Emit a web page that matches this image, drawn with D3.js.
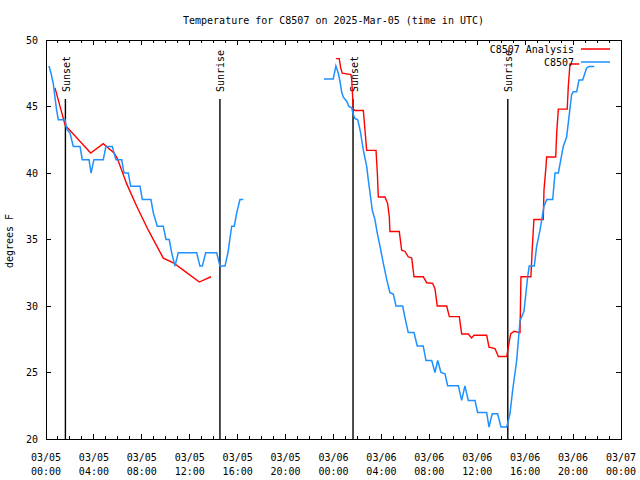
<!DOCTYPE html>
<html>
<head>
<meta charset="utf-8">
<script src="https://cdn.jsdelivr.net/npm/d3@7"></script>
<style>
  html, body { margin: 0; padding: 0; background: #fff; }
  svg { display: block; }
  text { font-family: "DejaVu Sans Mono", monospace; font-size: 10px; fill: #000; }
</style>
</head>
<body>
<script>
// ---- data (hours since 03/05 00:00 UTC, temperature in degrees F) ----
const title = "Temperature for C8507 on 2025-Mar-05 (time in UTC)";
const yLabel = "degrees F";
const seriesNames = ["C8507 Analysis", "C8507"];
const seriesColors = ["#ff0000", "#1e90ff"];

const xTickHours = [0, 4, 8, 12, 16, 20, 24, 28, 32, 36, 40, 44, 48];
const xTickDates = ["03/05","03/05","03/05","03/05","03/05","03/05","03/06","03/06","03/06","03/06","03/06","03/06","03/07"];
const xTickTimes = ["00:00","04:00","08:00","12:00","16:00","20:00","00:00","04:00","08:00","12:00","16:00","20:00","00:00"];
const yTicks = [20, 25, 30, 35, 40, 45, 50];

const sunEvents = [
  { label: "Sunset",  hour: 1.62 },
  { label: "Sunrise", hour: 14.52 },
  { label: "Sunset",  hour: 25.63 },
  { label: "Sunrise", hour: 38.55 }
];

// C8507 Analysis (red), two segments
const analysisPart1 = [
  [0.75,46.4],[1.6,43.6],[3.73,41.5],[4.78,42.2],[5.68,41.5],[5.95,41.1],[6.73,39.2],
  [7.57,37.5],[8.54,35.7],[9.79,33.6],[10.63,33.25],[11.46,32.7],[12.8,31.8],[13.77,32.2]
];
const analysisPart2 = [
  [24.2,48.6],[24.48,48.6],[24.6,47.9],[24.73,47.5],[25.46,47.4],[25.52,47.05],[25.6,45.7],
  [25.65,44.8],[25.79,44.7],[26.49,44.7],[26.63,43.2],[26.77,41.7],[27.55,41.7],[27.66,40.0],
  [27.74,38.2],[28.3,38.2],[28.52,37.7],[28.66,36.7],[28.71,35.6],[29.49,35.6],[29.69,34.2],
  [29.97,34.1],[30.24,33.7],[30.53,33.6],[30.72,32.2],[31.49,32.2],[31.78,31.75],[32.28,31.7],
  [32.47,31.3],[32.66,30.0],[33.45,30.0],[33.67,29.2],[34.5,29.2],[34.7,27.9],[35.25,27.9],
  [35.53,27.6],[35.73,27.8],[36.79,27.8],[36.98,26.9],[37.48,26.8],[37.76,26.2],[38.46,26.2],
  [38.65,27.2],[38.79,27.9],[39.07,28.1],[39.57,28.0],[39.65,32.2],[40.48,32.2],[40.59,34.3],
  [40.73,36.5],[41.51,36.5],[41.57,38.7],[41.74,40.5],[41.79,41.2],[42.55,41.2],[42.63,43.0],
  [42.77,44.8],[43.51,44.8],[43.6,46.5],[43.74,48.2],[44.52,48.2]
];

// C8507 observations (blue), two segments
const observedPart1 = [
  [0.25,48.05],[0.42,47.5],[0.61,46.7],[0.69,46.1],[0.89,44.7],[1.03,44.0],[1.59,44.0],
  [1.73,43.3],[2.0,43.0],[2.28,42.0],[2.84,42.0],[3.03,41.0],[3.59,41.0],[3.76,40.0],
  [4.0,41.0],[4.78,41.0],[5.0,42.0],[5.53,42.0],[5.84,41.0],[6.32,41.0],[6.51,40.0],
  [6.87,40.0],[7.07,39.0],[7.85,39.0],[8.04,38.0],[8.76,38.0],[8.96,37.0],[9.29,36.0],
  [9.79,36.0],[10.02,35.0],[10.29,35.0],[10.49,34.0],[10.77,33.0],[11.04,34.0],[12.58,34.0],
  [12.85,33.0],[13.05,33.0],[13.33,34.0],[14.25,34.0],[14.52,33.0],[14.94,33.0],[15.19,34.0],
  [15.5,36.0],[15.72,36.0],[15.92,37.0],[16.19,38.0],[16.47,38.0]
];
const observedPart2 = [
  [23.2,47.07],[23.98,47.07],[24.2,48.05],[24.4,47.5],[24.54,46.9],[24.68,46.1],[24.82,45.7],
  [25.1,45.4],[25.29,45.0],[25.52,44.9],[25.65,44.4],[25.79,44.1],[26.02,44.0],[26.15,43.5],
  [26.27,43.0],[26.4,42.2],[26.54,41.5],[26.77,40.5],[26.9,39.5],[27.05,38.5],[27.24,37.2],
  [27.46,36.5],[27.65,35.5],[27.88,34.5],[28.16,33.2],[28.44,32.0],[28.71,31.0],[28.99,30.9],
  [29.22,30.0],[29.77,30.0],[29.97,29.1],[30.24,28.0],[30.72,28.0],[30.99,27.0],[31.49,27.0],
  [31.72,25.9],[32.2,25.9],[32.47,25.0],[32.7,25.9],[32.97,25.0],[33.31,24.9],[33.53,24.0],
  [34.42,24.0],[34.7,22.9],[34.97,24.0],[35.25,22.9],[35.81,22.9],[36.03,22.0],[36.79,22.0],
  [36.98,20.9],[37.25,21.9],[37.7,21.9],[37.98,20.9],[38.46,20.9],[38.73,21.9],[38.96,23.7],
  [39.29,25.9],[39.57,28.9],[39.9,29.6],[40.21,32.2],[40.34,33.0],[40.76,33.0],[40.96,34.5],
  [41.24,35.7],[41.57,37.5],[41.8,38.0],[42.3,38.0],[42.49,40.0],[42.77,40.0],[43.18,42.0],
  [43.46,42.7],[43.63,44.0],[43.88,45.9],[44.02,46.1],[44.3,46.1],[44.49,47.0],[44.8,47.0],
  [45.13,47.9],[45.33,48.0],[45.77,48.0]
];

// ---- drawing ----
const W = 640, H = 480;
const plotL = 46, plotR = 621, plotT = 40, plotB = 439;

const svg = d3.select("body").append("svg").attr("width", W).attr("height", H);

const x = d3.scaleLinear().domain([0, 48]).range([plotL, plotR]);
const y = d3.scaleLinear().domain([20, 50]).range([plotB, plotT]);

// title
svg.append("text").attr("x", (plotL + plotR) / 2).attr("y", 24)
  .attr("text-anchor", "middle").text(title);

// y label
svg.append("text").attr("transform", `translate(13,241) rotate(-90)`)
  .attr("text-anchor", "middle").text(yLabel);

const axisG = svg.append("g");
const majorLen = 5, minorLen = 3;
const minorHours = d3.range(0, 49, 1);

// x ticks (bottom and top, inward)
minorHours.forEach(h => {
  const len = xTickHours.includes(h) ? majorLen : minorLen;
  axisG.append("line").attr("x1", x(h)).attr("x2", x(h)).attr("y1", plotB).attr("y2", plotB - len)
    .attr("stroke", "#000").attr("stroke-width", 1).attr("shape-rendering", "crispEdges");
  axisG.append("line").attr("x1", x(h)).attr("x2", x(h)).attr("y1", plotT).attr("y2", plotT + len)
    .attr("stroke", "#000").attr("stroke-width", 1).attr("shape-rendering", "crispEdges");
});
xTickHours.forEach((h, i) => {
  const t = axisG.append("text").attr("x", x(h)).attr("text-anchor", "middle");
  t.append("tspan").attr("x", x(h)).attr("y", 461).text(xTickDates[i]);
  t.append("tspan").attr("x", x(h)).attr("y", 475).text(xTickTimes[i]);
});

// y ticks (left and right, inward)
yTicks.forEach(v => {
  axisG.append("line").attr("x1", plotL).attr("x2", plotL + majorLen).attr("y1", y(v)).attr("y2", y(v))
    .attr("stroke", "#000").attr("shape-rendering", "crispEdges");
  axisG.append("line").attr("x1", plotR).attr("x2", plotR - majorLen).attr("y1", y(v)).attr("y2", y(v))
    .attr("stroke", "#000").attr("shape-rendering", "crispEdges");
  axisG.append("text").attr("x", 38).attr("y", y(v)).attr("dy", "0.35em")
    .attr("text-anchor", "end").text(v);
});

// sunrise / sunset markers
sunEvents.forEach(e => {
  svg.append("line").attr("x1", x(e.hour)).attr("x2", x(e.hour)).attr("y1", 99).attr("y2", plotB)
    .attr("stroke", "#000").attr("stroke-width", 1.4);
  svg.append("text").attr("transform", `translate(${x(e.hour) + 1},92) rotate(-90)`)
    .attr("text-anchor", "start").attr("dy", "0.35em").text(e.label);
});

// series lines
const line = d3.line().x(d => x(d[0])).y(d => y(d[1]));
[analysisPart1, analysisPart2].forEach(seg => {
  svg.append("path").datum(seg).attr("d", line).attr("fill", "none")
    .attr("stroke", seriesColors[0]).attr("stroke-width", 1.4);
});
[observedPart1, observedPart2].forEach(seg => {
  svg.append("path").datum(seg).attr("d", line).attr("fill", "none")
    .attr("stroke", seriesColors[1]).attr("stroke-width", 1.5);
});

// legend
seriesNames.forEach((name, i) => {
  const ly = 49 + i * 13;
  svg.append("text").attr("x", 574).attr("y", ly).attr("dy", "0.35em")
    .attr("text-anchor", "end").text(name);
  svg.append("line").attr("x1", 581).attr("x2", 610).attr("y1", ly).attr("y2", ly)
    .attr("stroke", seriesColors[i]).attr("stroke-width", 1.5);
});

// frame
svg.append("rect").attr("x", plotL).attr("y", plotT).attr("width", plotR - plotL).attr("height", plotB - plotT)
  .attr("fill", "none").attr("stroke", "#000").attr("stroke-width", 1).attr("shape-rendering", "crispEdges");
</script>
</body>
</html>
